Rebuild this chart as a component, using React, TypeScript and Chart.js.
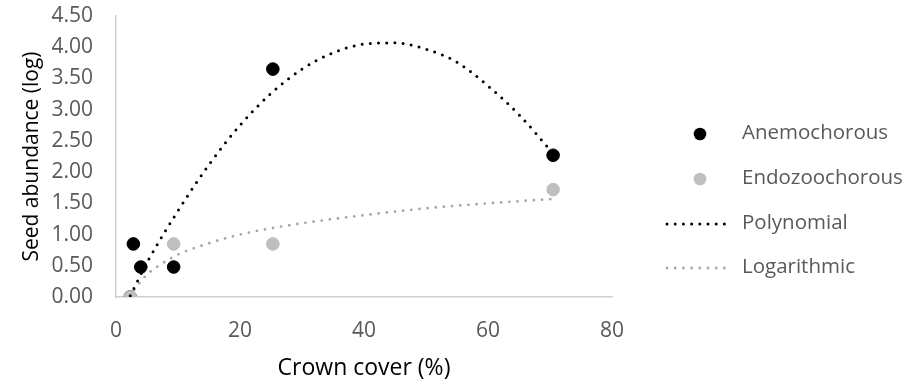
import React, { useEffect, useRef } from "react";
import { Chart, registerables } from "chart.js";

Chart.register(...registerables);

// Observed data points
const anemoX = [2.3, 2.8, 4.0, 9.3, 25.3, 70.5];
const anemoY = [0, 0.85, 0.48, 0.48, 3.65, 2.27];
const endoX = [2.3, 9.3, 25.3, 70.5];
const endoY = [0, 0.85, 0.85, 1.72];

// Trendlines
const polyX = [2.3, 5, 10, 15, 20, 25, 30, 35, 40, 45, 50, 55, 60, 65, 70.5];
const polyY = [0.02, 0.55, 1.38, 2.12, 2.75, 3.26, 3.65, 3.91, 4.05, 4.07, 3.97, 3.76, 3.38, 2.92, 2.3];
const logX = [2.3, 3, 4, 5, 7.5, 10, 15, 20, 25, 30, 40, 50, 60, 70.5];
const logY = [0, 0.12, 0.25, 0.36, 0.54, 0.68, 0.86, 1.0, 1.1, 1.18, 1.31, 1.42, 1.5, 1.57];

const seriesLabels = ["Anemochorous", "Endozoochorous", "Polynomial", "Logarithmic"];
const xTicks = [0, 20, 40, 60, 80];

const FONT = "'Open Sans', sans-serif";
const BLACK = "#000000";
const GREY_PT = "#bfbfbf";
const GREY_LINE = "#a6a6a6";

const zip = (xs: number[], ys: number[]) => xs.map((x, i) => ({ x, y: ys[i] }));

const legendPlugin = {
  id: "customLegend",
  afterDraw(chart: any) {
    const ctx = chart.ctx as CanvasRenderingContext2D;
    const rows = [134, 179, 224, 268];
    ctx.save();
    ctx.font = `20.5px ${FONT}`;
    ctx.textBaseline = "middle";
    ctx.textAlign = "left";
    rows.forEach((y, i) => {
      if (i < 2) {
        ctx.fillStyle = i === 0 ? BLACK : GREY_PT;
        ctx.beginPath();
        ctx.arc(700, y, 6.3, 0, Math.PI * 2);
        ctx.fill();
      } else {
        ctx.strokeStyle = i === 2 ? BLACK : GREY_LINE;
        ctx.lineWidth = i === 2 ? 3 : 2.8;
        ctx.lineCap = "round";
        ctx.setLineDash([0, 8.2]);
        ctx.beginPath();
        ctx.moveTo(667, y);
        ctx.lineTo(729, y);
        ctx.stroke();
        ctx.setLineDash([]);
      }
      ctx.fillStyle = "#595959";
      ctx.fillText(seriesLabels[i], 742, y - 1);
    });
    ctx.restore();
  },
};

export default function App() {
  const ref = useRef<HTMLCanvasElement | null>(null);
  useEffect(() => {
    document.body.style.margin = "0";
    const canvas = ref.current!;
    const chart = new Chart(canvas, {
      type: "scatter",
      data: {
        datasets: [
          {
            type: "line",
            label: seriesLabels[2],
            data: zip(polyX, polyY),
            borderColor: BLACK,
            borderWidth: 3,
            borderDash: [0, 8.2],
            borderCapStyle: "round",
            pointRadius: 0,
            fill: false,
            tension: 0.4,
            cubicInterpolationMode: "monotone",
            order: 1,
          } as any,
          {
            type: "line",
            label: seriesLabels[3],
            data: zip(logX, logY),
            borderColor: GREY_LINE,
            borderWidth: 2.8,
            borderDash: [0, 8.2],
            borderCapStyle: "round",
            pointRadius: 0,
            fill: false,
            tension: 0.4,
            cubicInterpolationMode: "monotone",
            order: 2,
          } as any,
          {
            label: seriesLabels[1],
            data: zip(endoX, endoY),
            backgroundColor: GREY_PT,
            borderColor: GREY_PT,
            pointRadius: 6.3,
            pointHoverRadius: 6.3,
            order: 3,
          },
          {
            label: seriesLabels[0],
            data: zip(anemoX, anemoY),
            backgroundColor: BLACK,
            borderColor: BLACK,
            pointRadius: 6.3,
            pointHoverRadius: 6.3,
            order: 4,
          },
        ],
      },
      options: {
        animation: false,
        responsive: false,
        maintainAspectRatio: false,
        layout: { padding: { left: 0, right: 296, top: 16, bottom: 0 } },
        plugins: { legend: { display: false }, tooltip: { enabled: false } },
        scales: {
          x: {
            type: "linear",
            min: 0,
            max: 80,
            afterBuildTicks: (s: any) => {
              s.ticks = xTicks.map((v) => ({ value: v }));
            },
            afterFit: (s: any) => {
              s.height = 90;
              s.paddingLeft = 0;
              s.paddingRight = 0;
            },
            grid: { display: false, drawTicks: false },
            border: { display: true, color: "#d0d0d0", width: 1.5 },
            ticks: {
              color: "#595959",
              font: { family: FONT, size: 21 },
              padding: 21,
            },
            title: {
              display: true,
              text: "Crown cover (%)",
              color: "#000000",
              font: { family: FONT, size: 23 },
              padding: { top: 0, bottom: 5 },
            },
          },
          y: {
            type: "linear",
            min: 0,
            max: 4.5,
            ticks: {
              stepSize: 0.5,
              color: "#595959",
              font: { family: FONT, size: 21 },
              padding: 23,
              callback: (v: any) => Number(v).toFixed(2),
            },
            afterFit: (s: any) => {
              s.width = 116;
              s.paddingTop = 0;
              s.paddingBottom = 0;
            },
            grid: { display: false, drawTicks: false },
            border: { display: true, color: "#d0d0d0", width: 1.5 },
            title: {
              display: true,
              text: "Seed abundance (log)",
              color: "#000000",
              font: { family: FONT, size: 21 },
              padding: { top: 19, bottom: 0 },
            },
          },
        },
      },
      plugins: [legendPlugin],
    });
    return () => chart.destroy();
  }, []);
  return (
    <div style={{ width: 908, height: 387 }}>
      <canvas ref={ref} width={908} height={387} style={{ display: "block" }} />
    </div>
  );
}
